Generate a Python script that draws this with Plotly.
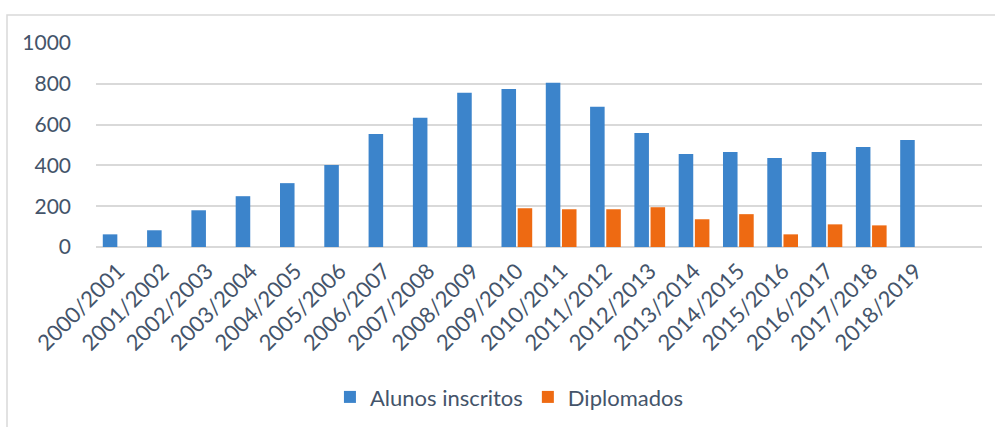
import plotly.graph_objects as go

categories = ["2000/2001", "2001/2002", "2002/2003", "2003/2004", "2004/2005",
              "2005/2006", "2006/2007", "2007/2008", "2008/2009", "2009/2010",
              "2010/2011", "2011/2012", "2012/2013", "2013/2014", "2014/2015",
              "2015/2016", "2016/2017", "2017/2018", "2018/2019"]
inscritos = [62, 82, 180, 249, 313, 402, 554, 633, 756, 775,
             805, 687, 559, 456, 466, 436, 466, 490, 525]
diplomados = [None, None, None, None, None, None, None, None, None, 190,
              185, 185, 195, 136, 161, 62, 111, 106, None]
y_ticks = [0, 200, 400, 600, 800, 1000]

TXT = "#44546A"
FONT = "Lato"

fig = go.Figure()
fig.add_trace(go.Bar(x=categories, y=inscritos, name="Alunos inscritos",
                     marker=dict(color="#3C84CB", line=dict(width=0))))
fig.add_trace(go.Bar(x=categories, y=diplomados, name="Diplomados",
                     marker=dict(color="#EE6A12", line=dict(width=0))))

fig.update_layout(
    width=995, height=427,
    margin=dict(l=96, r=13, t=43, b=180),
    paper_bgcolor="white", plot_bgcolor="white",
    barmode="group", bargap=0.27, bargroupgap=0.1,
    font=dict(family=FONT, size=21, color=TXT),
    showlegend=True,
    legend=dict(orientation="h", xref="container", yref="container",
                x=0.512, xanchor="center", y=0.07, yanchor="middle",
                font=dict(family=FONT, size=22, color=TXT),
                itemwidth=30, traceorder="normal"),
    xaxis=dict(type="category", range=[-0.5, 19.5], tickangle=-45,
               showgrid=False, showline=False, ticks="",
               ticklabelstandoff=6,
               tickfont=dict(family=FONT, size=22, color=TXT)),
    yaxis=dict(range=[0, 1000], tickvals=y_ticks, showgrid=True,
               gridcolor="#D9D9D9", gridwidth=1.5, zeroline=True,
               zerolinecolor="#D9D9D9", zerolinewidth=1.5,
               showline=False, ticks="", ticklabelstandoff=24,
               tickfont=dict(family=FONT, size=21, color=TXT)),
    shapes=[dict(type="rect", xref="paper", yref="paper",
                 x0=(7 - 96) / 886, x1=(1005 - 96) / 886,
                 y0=(247 - 440) / 204, y1=(247 - 15) / 204,
                 line=dict(color="#D9D9D9", width=1.5), fillcolor="rgba(0,0,0,0)",
                 layer="below")],
)

fig.write_html("out.html")
